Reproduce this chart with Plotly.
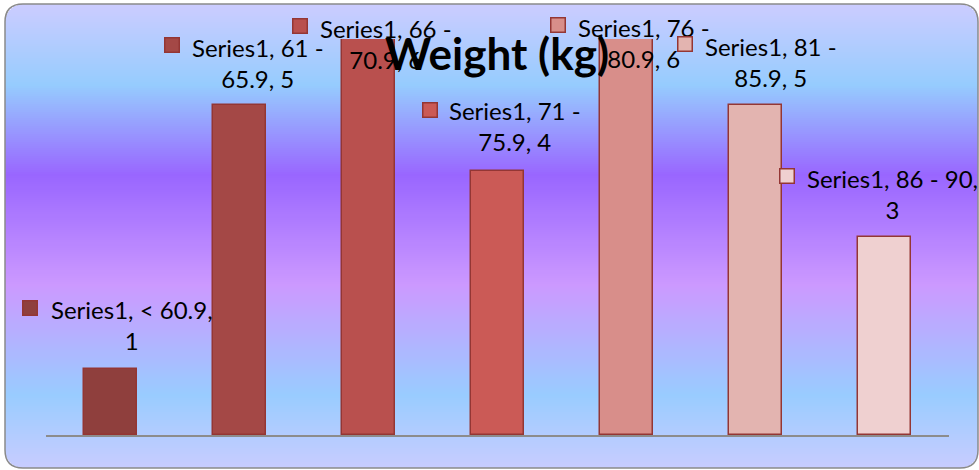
import textwrap
import math
import plotly.graph_objects as go

# ---------------- data ----------------
categories = ["< 60.9", "61 - 65.9", "66 - 70.9", "71 - 75.9", "76 - 80.9", "81 - 85.9", "86 - 90"]
counts = [1, 5, 6, 4, 6, 5, 3]
series_name = "Series1"
title_text = "Weight (kg)"

# ---------------- style ----------------
bar_colors = ["#8F3F3D", "#A44846", "#B9504E", "#CB5A56", "#D88E8A", "#E3B4B0", "#EFD0D0"]
bar_line = "#943634"
# label offsets (pixels) relative to top-centre of each bar
label_dx = [21.5, 18.5, 17.5, 17.5, 17.5, 15.5, 7.5]
label_dy = [44, 42.5, -4.5, 45, -3.5, 43, 43.5]
key_dx = [-80.5, -68, -69, -67.5, -69, -70.5, -98]
key_dy = [61, 60.5, 13.5, 61, 14, 61, 61.5]

W, H = 979, 470
ML, MR, MT, MB = 46, 30, 39, 35
PW, PH = W - ML - MR, H - MT - MB


def px(x):
    return (x - ML) / PW


def py(y):
    return (H - MB - y) / PH


# gradient background stops (pixel y, colour)
grad = [(4, (0xCC, 0xCC, 0xFF)), (85, (0x96, 0xCC, 0xFE)), (175, (0x99, 0x66, 0xFF)),
        (285, (0xCC, 0x99, 0xFF)), (395, (0x99, 0xCC, 0xFF)), (468, (0xC8, 0xCC, 0xFF))]


def colat(y):
    for (y0, c0), (y1, c1) in zip(grad[:-1], grad[1:]):
        if y0 <= y <= y1:
            t = (y - y0) / (y1 - y0)
            return "rgb(%d,%d,%d)" % tuple(round(a + (b - a) * t) for a, b in zip(c0, c1))
    return "rgb(%d,%d,%d)" % (grad[-1][1] if y > grad[-1][0] else grad[0][1])


L, T, R, B, RAD = 5, 4, 978, 468, 18
shapes = []
y = T
while y < B:
    m = y + 1
    inset = 0
    if m < T + RAD:
        d = T + RAD - m
        inset = RAD - math.sqrt(max(RAD * RAD - d * d, 0))
    elif m > B - RAD:
        d = m - (B - RAD)
        inset = RAD - math.sqrt(max(RAD * RAD - d * d, 0))
    shapes.append(dict(type="rect", xref="paper", yref="paper", layer="below",
                       x0=px(L + inset), x1=px(R - inset), y0=py(y), y1=py(min(y + 2.6, B)),
                       fillcolor=colat(m), line=dict(width=0)))
    y += 2

path = (f"M {px(L+RAD)},{py(T)} L {px(R-RAD)},{py(T)} Q {px(R)},{py(T)} {px(R)},{py(T+RAD)} "
        f"L {px(R)},{py(B-RAD)} Q {px(R)},{py(B)} {px(R-RAD)},{py(B)} "
        f"L {px(L+RAD)},{py(B)} Q {px(L)},{py(B)} {px(L)},{py(B-RAD)} "
        f"L {px(L)},{py(T+RAD)} Q {px(L)},{py(T)} {px(L+RAD)},{py(T)} Z")
shapes.append(dict(type="path", xref="paper", yref="paper", layer="below", path=path,
                   line=dict(color="#8A8A8A", width=1.5)))

fig = go.Figure()
fig.add_trace(go.Bar(x=categories, y=counts, width=0.41,
                     marker=dict(color=bar_colors, line=dict(color=bar_line, width=1.5)),
                     showlegend=False, cliponaxis=False, hoverinfo="x+y"))

annotations = []
for i, (cat, v) in enumerate(zip(categories, counts)):
    txt = "<br>".join(textwrap.wrap(f"{series_name}, {cat}, {v}", width=17))
    annotations.append(dict(x=cat, y=v, xref="x", yref="y", text=txt, showarrow=False,
                            xanchor="center", yanchor="middle", align="center",
                            xshift=label_dx[i], yshift=label_dy[i],
                            font=dict(family="Lato", size=24, color="#000000")))
    annotations.append(dict(x=cat, y=v, xref="x", yref="y", text=" ", showarrow=False,
                            xanchor="center", yanchor="middle", width=13, height=13,
                            borderpad=0, bgcolor=bar_colors[i], bordercolor=bar_line, borderwidth=1.5,
                            xshift=key_dx[i], yshift=key_dy[i], font=dict(size=4)))

fig.update_layout(
    width=W, height=H,
    margin=dict(l=ML, r=MR, t=MT, b=MB, pad=0),
    paper_bgcolor="#FFFFFF", plot_bgcolor="rgba(0,0,0,0)",
    shapes=shapes, annotations=annotations,
    title=dict(text=f"<b>{title_text}</b>", x=497 / W, xanchor="center", xref="container",
               y=1 - 55 / H, yanchor="middle", yref="container",
               font=dict(family="Lato", size=44, color="#000000")),
    xaxis=dict(type="category", range=[-0.5, 6.5], showline=True, linecolor="#8C8C8C", linewidth=2,
               showticklabels=False, ticks="", showgrid=False, zeroline=False),
    yaxis=dict(range=[0, 6], visible=False, showgrid=False, zeroline=False),
    bargap=0,
)

fig.write_html("out.html")
